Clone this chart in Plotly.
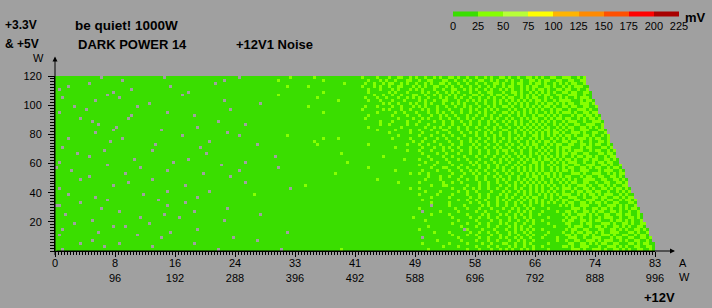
import plotly.graph_objects as go

# ---------------- data ----------------
AMPS_LABELS = ['0', '8', '16', '24', '33', '41', '49', '58', '66', '74', '83']
WATTS_LABELS = ['', '96', '192', '288', '396', '492', '588', '696', '792', '888', '996']
Y_TICKS = [20, 40, 60, 80, 100, 120]
LEGEND_TICKS = [0, 25, 50, 75, 100, 125, 150, 175, 200, 225]
LEGEND_COLORS = ['#3ade00', '#86ff00', '#b8ff38', '#ffff00', '#ffb400',
                 '#ff8a00', '#ff5000', '#ff0000', '#a80000']
# noise band per cell: '0' = no measurement, '1' = 0-25 mV, '2' = 25-50 mV
BAND_MV = {'0': None, '1': 14, '2': 36}
MAX_AMPS = 83.0
N_COLS = 200
# number of measured +12V steps in each minor-rail row (top row first)
ROW_LEN = [177, 177, 177, 178, 178, 179, 179, 179, 180, 180, 181, 181, 181, 182, 182,
           183, 183, 183, 184, 184, 185, 185, 185, 186, 186, 187, 187, 187, 188, 188,
           189, 189, 190, 190, 190, 191, 191, 191, 192, 192, 193, 193, 194, 194, 194,
           195, 195, 196, 196, 196, 197, 197, 198, 198, 198, 199, 199, 200, 200, 200]
# one string per 2 W row of the +3.3V/+5V load, top (120 W) first
NOISE_ROWS = [
    "1111111111 1111101111 1111111111 1111110111 1111111111 1111111111 1011111111 1111111121 1111112111 1111111111 1121111211 1211221121 2112112121 1221211211 2112121122 1211211221 2121122112 2211212",
    "1111111111 1111111111 1101111111 1111111111 1111111111 1111110111 1111111111 1111211111 1111111112 1111111111 1111211121 2112111221 1211221112 2112112121 1221121211 2121121122 1212211221 1221122",
    "1111111111 1011111111 1111111111 1111111111 1111111111 1110111111 1111111111 1111111111 1111111111 1111112111 1112112112 1221121211 2112121122 1211211211 2112112212 1121221121 2212112121 2122112",
    "1111011111 1111111111 1111111111 1111111101 1111111111 1111111111 1111111111 1111111211 1111211111 1111111111 1121112121 1211221112 1212112211 2121121121 1211212112 1221121212 2112212112 12122211",
    "1011111111 1111111111 1111101111 1111111111 1111111111 1111111111 1111111111 1111111111 1111111111 1111111111 1111211121 1121211121 2121112112 1122112121 2112121121 2121121212 1221211221 22112112",
    "1111111111 1111111110 1111111111 1111111111 1111011111 1111111111 1111111111 1111111111 1111111112 1111111111 1111211111 1212111211 1121211211 2121211121 1211221112 1122121121 2121212112 212211221",
    "1111111111 1111111011 1111111111 1111111111 1101111111 1111111111 1111111111 1111211111 1111111111 1111111111 1111112112 1121121112 2112112121 1212112112 2121121221 2112121212 1212211221 122211211",
    "1101111111 1111111111 1011111111 1111111111 1111111111 1111111111 1111111111 1111111111 1111111211 1111111111 1112111211 2111211212 1211211121 2112121121 1211212112 1221121212 2112121121 211212221",
    "1111111111 1110111111 1111111111 1111111111 1111111111 1111110111 1111111111 1111111111 1111111111 1111211111 1111211121 1121112111 1212112112 2111211212 1212112121 2121212121 2212112122 2211121221",
    "1111111111 1111111111 1111111111 1011111111 1111111111 1111111111 1111111101 1111111111 1111111111 1111111111 1111111112 1211211121 2112121112 1121212111 2112112121 1212121211 2121221212 1221122212",
    "1111110111 1111111111 1111111011 1111111111 1111111111 1111111111 1111111111 1111111111 1111211111 1111111111 1112111211 1121121112 1212111211 2112112121 1211212112 2121121212 1212212112 2122112211 2",
    "1111111111 0111111111 1111111111 1111111111 1111111111 1111111101 1111111111 1111111111 1111111111 1111111111 1121111112 1211121121 1121211211 1211121121 2112121211 1212112121 2121121221 1211222121 1",
    "1011111111 1111111111 1111111111 1111111011 1111111111 1111111111 1111111111 1111111111 1111111112 1111111111 1111111211 1112112111 2111211212 1121121121 1212112112 2121212121 2112121212 2212112212 2",
    "1111111111 1111111111 1111101111 1111111111 1111110111 1111111111 1111111111 1111111111 1111111111 1111111111 1111211111 1121111211 1211121121 2112111211 2112121121 1211212112 1221212121 1121221221 21",
    "1111111101 1111111111 1111011111 1111111111 1111111111 1111111111 1111111111 1111111111 1111111111 1111111111 1112111111 1111211112 1121211121 1211211212 1121121211 2121121212 2112121221 2211212122 12",
    "1111111111 1101111111 1111111111 1111111111 1111111111 1111011111 1111111111 1111111111 1111111111 1111111111 1111111121 1121111211 1211112112 1121121121 1211212112 1212121121 2121212112 1222112112 221",
    "1111111111 1111011111 1111111111 1111111111 1111111111 1111111111 1110111111 1111111111 1111111111 1111111111 1111111121 1211111211 2111211112 1121112121 1211211211 2112121212 1212112121 2112211222 112",
    "1111111111 1111111111 0111111111 1111111111 1111111011 1111111111 1111111111 1111111111 1111111111 1111111111 1111211111 1111121111 1112112121 1211211211 2112112121 1211212121 2121211212 1221122121 212",
    "1111111111 1111111110 1111111111 1111101111 1111111111 1111111111 1111111111 1111111111 1111111111 1111111111 1111111211 1112111121 1211121112 2111211211 1211212112 2112121212 1212212121 2121122211 1221",
    "1111111111 1110111111 1111111111 1111111111 1111111111 1111111011 1111111111 1111111111 1111111111 1111111111 1111111111 1211111121 1121111211 1211121121 2112121121 1212112121 2121212212 1122212112 2112",
    "1111111111 1111111111 1111111111 1111111111 1101111111 1111111111 1011111111 1111111211 1111111111 1111111111 1111111111 1111211111 1211121112 1121112111 2112112121 1211212112 2121212121 2212112212 11212",
    "1111011111 1111111111 1101111111 1111111111 1111111111 1111111111 1111111111 1111111111 1111111112 1111211111 1111111111 1121111121 1112111211 2111211121 1211212112 1212121121 2121121212 1211222121 22112",
    "1111111111 1111111101 1111111111 1111111111 1111111111 1011111111 1111111111 1111111111 1111112111 1111111111 1111111111 1111111112 1121112111 1211121121 2112112121 1211211212 1212212112 2122121121 12212",
    "1111111111 1111111111 1111111111 1110111111 1111111111 1111111111 1111111011 1111111111 1111111211 1111111111 1111211111 1111111211 1211211121 1121121112 1211211211 2121121212 2112121221 1221122121 221121",
    "1101111111 1111111111 1111111111 1111111111 1111111101 1111111111 1111111111 1111111111 1111111111 1111111111 1111111111 1112111111 1121112112 1211211121 2112112121 1211212121 2121211212 2211121221 112212",
    "1111111111 1111110111 1111111111 1101111111 1111111111 1111111111 1111111111 1111111111 1111111111 1111111111 1111111111 1111111211 1211121112 1121121121 1211211212 2121121121 1212121212 1212221121 2211212",
    "1111111011 1111111111 1111111111 1111111111 1111111111 0111111111 1111111111 1111111111 1111111111 1111121111 1111111111 1111111111 1121111211 2111211121 1211211211 2112121121 2121211212 2122112211 1221221",
    "1111111111 1011111111 1111111111 1111111111 1111111111 1111111111 1111111111 1110111111 1111111111 1111111111 1111111112 1111111111 1111211112 1121112111 2112112112 1211212121 1212121212 1121221221 2112122",
    "1111111111 1111111111 1111110111 1111111111 1111011111 1111111111 1111111111 1111111111 1111111111 1111111111 1111111111 1111112111 1211121111 2111211211 1211121121 2121121212 1212212121 2212112212 21122121",
    "1011111111 1111111111 1111111111 1111111110 1111111111 1111111111 1110111111 1111111111 1111111111 1111111211 1111111111 1111111111 1112111211 1211111121 2112112121 1211212112 2121121212 1222112112 12212211",
    "1111111111 1111111011 1111111111 1111111111 1111111111 1111101111 1111111111 1111111111 1111111111 1111111111 1111111111 1111111111 1211112111 1121121112 1211211211 2112121121 2121212112 2112211222 112212112",
    "0111111111 1111111111 1111111101 1111111111 1111111111 1111111111 1111111111 1111011111 1111111111 1111111111 1111211111 1111111111 1111121112 2111211211 1211211212 1121212121 2121121212 1221122121 221121221",
    "1111101111 1111111111 1111111111 1111111011 1111111111 1111111111 1011111111 1111111111 1111111111 1111111111 1111111111 1112111111 1121111211 1211121121 2112112112 1211212121 2121121212 2121122211 1212221121",
    "1111111111 1111111111 1110111111 1111111111 1111111110 1111111111 1111111111 1111111111 1111111111 1112111111 1111111111 1111111121 1211211111 1121112112 1211211211 2121121212 1212212121 1122212112 2211212122",
    "1111111111 1011111111 1111111111 1111111111 1111111111 1111111101 1111111111 1111111111 1111111111 1111111111 1111111111 1111111111 1111211121 1211121111 2112112121 1211211212 2121212121 2211121221 1221122121",
    "1111111101 1111111111 1111111111 1101111111 1111111111 1111111111 1111111111 1111111111 1111111111 1111111111 1111111211 1111111111 1112111121 1111211211 2112111212 1211212121 2121121212 1212112222 1122112212 1",
    "1111111111 1111111111 1111011111 1111111111 1111111111 1111111111 1110111111 1111111111 1111111111 1111111111 1111111111 1111211111 1211111112 1121121111 1211211211 2112121212 1212121121 2122112211 2112211221 2",
    "1111111111 1111111110 1111111111 1111111111 1110111111 1111111111 1111111111 1111111111 1112111111 1111111111 1111111111 1111111111 1111121112 2111111211 1211211121 1212112121 2121212112 1211222121 1221212112 2",
    "1011111111 1111111111 1111111111 1111111111 1111111111 1111111111 1111111111 1111111101 1111111111 1111111111 1111111111 1111111121 1211111111 1121112112 1211211211 2112121121 2121121212 2212112212 1122121221 21",
    "1111111111 1111111111 1111111111 1111111011 1111111111 1011111111 1111111111 1111111111 1111111111 1111111111 1111111111 1111111111 1112111121 1111211211 2111121112 1211212121 2121212112 1121221221 2211211212 12",
    "1111011111 1111111111 1111111110 1111111111 1111111111 1111111111 1111112111 1111111111 1111111111 1111111111 1111111111 1111111111 1211111211 1121111211 1211211121 2112112121 1212121212 2211212122 1212221121 211",
    "1111111111 1110111111 1111111111 1111111111 1111111011 1111111111 1111111111 1111111111 1111111111 1111111111 1111111111 1111111111 1111121111 1211111121 1211211211 2121121212 2112121121 1222112112 2122112212 122",
    "1111111111 1111111011 1111111111 1111011111 1111111111 1111111111 1111111111 1111111111 1111111111 1111111111 1111111111 1111111111 1121111111 1111211211 2112111212 1211212121 2121121212 2112211222 1121221121 2212",
    "1111111101 1111111111 1111111111 1111111111 1110111111 1111111111 1111111111 1111111111 1111111111 1111111111 1111111111 1111111111 1111121111 1211111121 1211211211 2112121121 2121212112 1221122121 2212112211 1221",
    "0011111111 1111111111 1111111111 1111111011 1111111111 1111111111 1111111111 1111111111 1111111111 1111111111 1111111111 1111111111 1111101111 1211112111 1121211211 2112112121 1121111121 2121122211 1211222121 2112",
    "1111111111 1111101111 1111111111 1111111111 1111111111 1111111011 1111111111 1111111111 1111111111 1111111111 1111111111 1111111111 1211111111 1112111211 1211121112 1121211212 1111211111 1122212112 2122121121 21221",
    "1111111111 1111111111 1011111111 1111111111 1111110111 1111111111 1111111111 1111111111 1111111111 1111111111 1111111111 1111111111 1101111121 1111211111 2112111211 1211212121 1121111211 2212112212 1221122121 12112",
    "1110111111 1111111111 1111111111 1111110111 1111111111 1111111111 1111111101 1111111111 1111111111 1111111111 1111111111 1111111111 1111121111 1211111211 1121211121 2112121121 1211111112 1211222121 2112211221 221121",
    "1111111111 1111111111 1111111101 1111111111 1011111111 1111111111 1111111111 1111111111 1111111111 1111111111 1111111111 1111111112 1111111111 1121111121 1211211211 1212112121 1111211111 2122121121 1212221121 122121",
    "1111111111 1101111111 1111111111 1111111111 1111111111 1111110111 1111111111 1111111111 1111111111 1111111111 1111111111 1111111111 1112111111 1111211111 2111121121 1211211212 1121111112 1221122121 2211121221 212112",
    "1111110111 1111111111 1111111111 1011111111 1111111111 1111111111 1111111111 1111111111 1111111111 1111111111 1111111111 1111111111 1111111111 1121111211 1211211121 2112112112 1111211111 2211121221 1122212112 2121122",
    "1111111111 1111111110 1110111111 1111111111 1111111111 1111111111 1111111111 1111111111 1111111111 1111111111 1111111111 1111111111 1111211111 1111121111 2111211211 1212121121 1111112111 1212221121 2212112212 1211221",
    "1101111111 1111111111 1111111111 1111111111 1111111011 1111111111 1111111111 1111111111 1111111111 1111111111 1111111111 1111111111 1211111111 1111110211 1121112111 2112121212 1121111111 2122112211 1221122121 21122121",
    "1111111111 1111011111 1111111111 1111111101 1111111111 1111111111 1111111111 1111111011 1111111111 1111111111 1111111111 1111111111 1111112111 1211111121 1211211211 1212112121 1111211112 1121221221 2121122211 12212112",
    "1011111111 1111111111 1111111011 1111111111 1111111111 1111111111 1111111111 1111111111 1111111111 1111111111 1111111111 1111111111 1111111111 1121111211 2111121121 1211211212 1112111111 2212112212 1122212112 21121221",
    "1111111111 1111111111 1111111111 1111101111 1111111111 1111111110 1111111111 1111111111 1111111111 1111111111 1111111111 1111111111 1101111111 1111211111 1211211121 2112121121 1121111211 1222112112 2211121221 122112212",
    "1111111111 1101111111 1111111111 1111111111 1111111111 1111111111 1111111011 1111111111 1111111111 1111111111 1111111111 1111111111 1111111211 1111121111 2111211211 1211212112 1111111211 2112211222 1212221121 211221121",
    "1111111101 1111111111 1011111111 1111111111 1111110111 1111111111 1111111111 1111111111 1111111111 1111111111 1111111111 1111111111 1121111111 1211111211 1121121112 2112112121 1111211111 1221122121 2122112211 1221212211",
    "1111111111 1111110111 1111111111 1101111111 1111111111 1111111111 1111111111 1111111111 1111111111 1111111111 1111111111 1111111111 1111111112 1111211111 2111211211 1212112112 1121111112 2121122211 1211222121 2112211221",
    "1101111111 1111111111 1111111111 1111111111 1111111111 1111011111 1111111111 1111101111 1111111111 1111121111 1111111111 1111111111 1111211111 1111111211 1211121121 2121121212 1111211111 1122212112 2212112212 1211221121",
]

# ---------------- build the grid ----------------
col_w = MAX_AMPS / N_COLS
z = []
for s, n in zip(NOISE_ROWS, ROW_LEN):
    s = s.replace(' ', '')[:n]
    s = s + '1' * (n - len(s))
    z.append([BAND_MV[c] for c in s] + [None] * (N_COLS - n))
z = z[::-1]  # bottom row first
n_rows = len(z)
y_vals = [2 * k + 1 for k in range(n_rows)]
x_vals = [(i + 0.5) * col_w for i in range(N_COLS)]

nb = len(LEGEND_COLORS)
colorscale = []
for i, c in enumerate(LEGEND_COLORS):
    colorscale.append([i / nb, c])
    colorscale.append([(i + 1) / nb, c])

# pixel helpers for the fixed 712x308 canvas
L_PX, R_PX, T_PX, B_PX = 55, 655, 71, 251


def px_x(p):
    return (p - L_PX) / (R_PX - L_PX)


def px_y(p):
    return (B_PX - p) / (B_PX - T_PX)


FONT = 'Liberation Sans'

fig = go.Figure(go.Heatmap(
    z=z, x=x_vals, y=y_vals,
    zmin=LEGEND_TICKS[0], zmax=LEGEND_TICKS[-1],
    colorscale=colorscale, zsmooth=False, hoverinfo='skip',
    colorbar=dict(
        orientation='h', x=px_x(453), xanchor='left', y=px_y(13.5), yanchor='middle',
        len=226, lenmode='pixels', thickness=5, thicknessmode='pixels',
        outlinewidth=0, xpad=0, ypad=0, ticks='',
        tickvals=LEGEND_TICKS, ticktext=[str(v) for v in LEGEND_TICKS],
        tickfont=dict(family=FONT, size=11, color='black'),
    ),
))

xt_vals = [i * MAX_AMPS / (len(AMPS_LABELS) - 1) for i in range(len(AMPS_LABELS))]
xt_text = [a if not w else f'{a}<br>{w}' for a, w in zip(AMPS_LABELS, WATTS_LABELS)]

fig.update_layout(
    width=712, height=308,
    margin=dict(l=L_PX, r=712 - R_PX, t=T_PX, b=308 - B_PX, pad=0),
    paper_bgcolor='#a0a0a0', plot_bgcolor='#a0a0a0',
    font=dict(family=FONT, size=11, color='black'),
    showlegend=False,
    xaxis=dict(
        range=[0, MAX_AMPS], showgrid=False, zeroline=False,
        showline=True, linecolor='black', linewidth=1,
        ticks='outside', ticklen=5, tickcolor='black', tickwidth=1,
        tickmode='array', tickvals=xt_vals, ticktext=xt_text,
        ticklabelstandoff=-3,
        tickfont=dict(family=FONT, size=11, color='black'),
        minor=dict(ticks='outside', ticklen=3, tickcolor='black', tickwidth=1,
                   tickmode='linear', tick0=0, dtick=col_w, showgrid=False),
        fixedrange=True,
    ),
    yaxis=dict(
        range=[0, 120], showgrid=False, zeroline=False,
        showline=True, linecolor='black', linewidth=1,
        ticks='outside', ticklen=6, tickcolor='black', tickwidth=1,
        tickmode='array', tickvals=Y_TICKS, ticktext=[str(v) for v in Y_TICKS],
        ticklabelstandoff=4,
        tickfont=dict(family=FONT, size=11, color='black'),
        minor=dict(ticks='outside', ticklen=4, tickcolor='black', tickwidth=1,
                   tickmode='linear', tick0=0, dtick=2, showgrid=False),
        fixedrange=True,
    ),
)


def label(text, xp, yp, size=11, bold=False, anchor='left'):
    fig.add_annotation(
        text=f'<b>{text}</b>' if bold else text,
        xref='paper', yref='paper', x=px_x(xp), y=px_y(yp),
        xanchor=anchor, yanchor='middle', showarrow=False,
        font=dict(family=FONT, size=size, color='black'), borderpad=0,
    )


label('+3.3V', 4, 18.5, 12, True)
label('&amp; +5V', 4, 38, 12, True)
label('be quiet! 1000W', 74, 19.5, 13.5, True)
label('DARK POWER 14', 77, 39, 13, True)
label('+12V1 Noise', 235, 39, 13, True)
label('mV', 684, 11, 13, True)
label('W', 38, 53, 11, False, 'center')
label('A', 678, 263, 11)
label('W', 678, 277.5, 11)
label('+12V', 643, 298.5, 13, True)

# axis arrows
fig.add_annotation(text='', xref='paper', yref='paper', x=0, y=px_y(51),
                   ax=0, ay=B_PX - 51, axref='pixel', ayref='pixel', showarrow=True,
                   arrowhead=2, arrowsize=1, arrowwidth=1, arrowcolor='black', standoff=0)
fig.add_annotation(text='', xref='paper', yref='paper', x=px_x(675), y=0,
                   ax=-(675 - L_PX), ay=0, axref='pixel', ayref='pixel', showarrow=True,
                   arrowhead=2, arrowsize=1, arrowwidth=1, arrowcolor='black', standoff=0)

fig.write_html('out.html', config={'displayModeBar': False})
